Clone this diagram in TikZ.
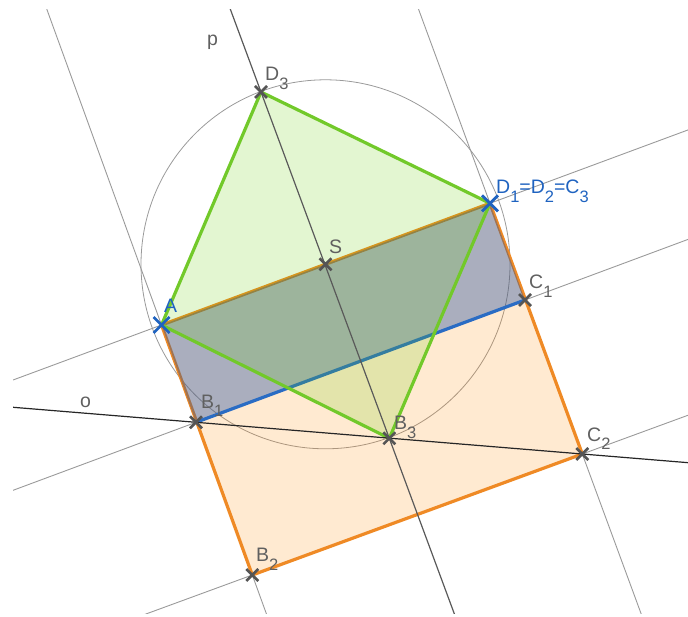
\documentclass[tikz,border=0pt]{standalone}
\usepackage{fontspec}
\setmainfont{Liberation Sans}
\usetikzlibrary{calc}
\definecolor{thin}{HTML}{9A9A9A}
\definecolor{ptgray}{HTML}{555555}
\definecolor{labgray}{HTML}{606060}
\definecolor{labblue}{HTML}{1F63C0}
\definecolor{orng}{HTML}{EF8A25}
\definecolor{orfill}{HTML}{FF8800}
\definecolor{bluefill}{HTML}{1F4FA0}
\definecolor{blueline}{HTML}{2A6CC4}
\definecolor{grn}{HTML}{72C92A}
\definecolor{grfill}{HTML}{66CC00}
\newcommand\gsub[1]{\raisebox{-9pt}{\fontsize{16.5}{16.5}\selectfont #1}}
\tikzset{
  thinline/.style={draw=thin, line width=0.9pt},
  axisline/.style={draw=#1, line width=1.2pt},
  lab/.style={inner sep=0pt, anchor=base west, font=\fontsize{19.5}{22}\selectfont, text=labgray},
  labb/.style={lab, text=labblue},
  ptcrossg/.pic={\draw[ptgray, line width=2.6pt] (-6,-6)--(6,6) (-6,6)--(6,-6);},
  ptcrossb/.pic={\draw[labblue, line width=2.8pt] (-8,-8)--(8,8) (-8,8)--(8,-8);}
}
\begin{document}
\begin{tikzpicture}[x=1pt,y=-1pt]
\useasboundingbox (0,0) rectangle (688,617);
\coordinate (A) at (161.5,325);
\coordinate (D1) at (490,203.3);
\coordinate (C1) at (525,300);
\coordinate (B1) at (196,422.3);
\coordinate (B2) at (252.3,575);
\coordinate (C2) at (582.3,454);
\coordinate (D3) at (261,92);
\coordinate (B3) at (389.3,438.3);
\coordinate (S) at (325.5,264.3);
% construction lines
\begin{scope}
\clip (13,10) rectangle (688,613);
\draw[thinline] ($(A)!-3!(D1)$) -- ($(D1)!-3!(A)$);
\draw[thinline] ($(B1)!-3!(C1)$) -- ($(C1)!-3!(B1)$);
\draw[thinline] ($(B2)!-3!(C2)$) -- ($(C2)!-3!(B2)$);
\draw[thinline] ($(A)!-3!(B2)$) -- ($(B2)!-3!(A)$);
\draw[thinline] ($(D1)!-3!(C2)$) -- ($(C2)!-3!(D1)$);
\end{scope}
\draw[draw=thin, line width=0.8pt] (S) circle[radius=184.5];
% polygons
\fill[orfill, fill opacity=0.18] (A) -- (B2) -- (C2) -- (D1) -- cycle;
\draw[orng, line width=3.2pt, line join=round] (A) -- (B2) -- (C2) -- (D1) -- cycle;
\fill[bluefill, fill opacity=0.38] (A) -- (B1) -- (C1) -- (D1) -- cycle;
\draw[blueline, line width=3.2pt] (B1) -- (C1);
\fill[grfill, fill opacity=0.18] (A) -- (D3) -- (D1) -- (B3) -- cycle;
\draw[grn, line width=3.2pt, line join=round] (A) -- (D3) -- (D1) -- (B3) -- cycle;
% lines o and p
\begin{scope}
\clip (13,10) rectangle (688,613);
\draw[axisline=black!85] ($(B1)!-3!(C2)$) -- ($(C2)!-3!(B1)$);
\draw[axisline=black!65] ($(D3)!-3!(B3)$) -- ($(B3)!-3!(D3)$);
\end{scope}
% points
\pic at (D3) {ptcrossg};
\pic at (S) {ptcrossg};
\pic at (C1) {ptcrossg};
\pic at (B1) {ptcrossg};
\pic at (B3) {ptcrossg};
\pic at (C2) {ptcrossg};
\pic at (B2) {ptcrossg};
\pic at (A) {ptcrossb};
\pic at (D1) {ptcrossb};
% labels
\node[lab] (lp) at (207,46) {p};
\node[lab] (lo) at (80,407) {o};
\node[lab] (lD3) at (265,81) {D\gsub{3}};
\node[labb] (lD1) at (496,194) {D\gsub{1}=D\gsub{2}=C\gsub{3}};
\node[lab] (lC1) at (529,289) {C\gsub{1}};
\node[lab] (lB1) at (201,408) {B\gsub{1}};
\node[lab] (lB3) at (394,429) {B\gsub{3}};
\node[lab] (lC2) at (587,441) {C\gsub{2}};
\node[lab] (lB2) at (256,561) {B\gsub{2}};
\node[lab] (lS) at (329,254) {S};
\node[labb] (lA) at (164,313) {A};
\end{tikzpicture}
\end{document}
